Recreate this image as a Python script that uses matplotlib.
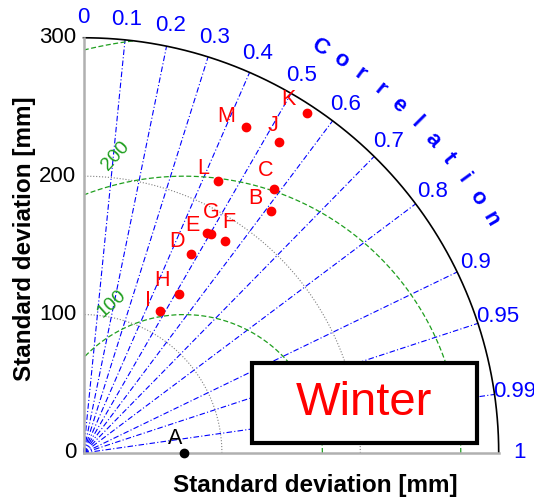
import numpy as np
import matplotlib.pyplot as plt
from matplotlib.patches import Rectangle

plt.rcParams['font.family'] = ['Liberation Sans', 'DejaVu Sans']

# model points: standard deviation [mm] and correlation
names = ['A', 'B', 'C', 'D', 'E', 'F', 'G', 'H', 'I', 'J', 'K', 'L', 'M']
stds = [72.6, 221.5, 235.0, 163.3, 181.9, 184.2, 182.8, 133.9, 116.7, 265.4, 293.9, 219.3, 263.1]
corrs = [1.0, 0.613, 0.586, 0.476, 0.489, 0.554, 0.503, 0.515, 0.474, 0.533, 0.549, 0.444, 0.446]

ref_std = 72.6
max_std = 300
std_ticks = [0, 100, 200, 300]
std_grid = [100, 200]
corr_ticks = [0, 0.1, 0.2, 0.3, 0.4, 0.5, 0.6, 0.7, 0.8, 0.9, 0.95, 0.99, 1]
rms_levels = [100, 200, 300]
rms_labels = [100, 200]

# label offsets (points) for the letters next to each dot
label_offsets = {
    'A': (-6.5, 10.1), 'B': (-11.7, 8.9), 'C': (-5.8, 13.9), 'D': (-10.3, 9.1),
    'E': (-10.4, 6.0), 'F': (2.6, 13.2), 'G': (0.7, 15.6), 'H': (-12.0, 9.8),
    'I': (-8.4, 7.7), 'J': (-4.3, 11.7), 'K': (-13.2, 9.4), 'L': (-10.8, 9.1),
    'M': (-13.9, 7.4),
}

fig = plt.figure(figsize=(5.34, 4.99), dpi=100)
ax = fig.add_axes([0.1564, 0.0922, 0.7775, 0.8321])
ax.set_xlim(0, max_std)
ax.set_ylim(0, max_std)
ax.axis('off')

# correlation rays
for c in corr_ticks:
    th = np.arccos(c)
    if 0 < c < 1:
        ax.plot([0, max_std * np.cos(th)], [0, max_std * np.sin(th)], color='blue',
                lw=0.8, ls=(0, (5, 2, 1, 2)), clip_on=False, zorder=2)
    ax.text(315 * np.cos(th), 315 * np.sin(th), f'{c:g}', color='blue', fontsize=16,
            ha='center', va='center', clip_on=False)

# "Correlation" written along the arc
word = 'Correlation'
for i, ch in enumerate(word):
    a = np.deg2rad(59.8 - i * 2.99)
    ax.text(339 * np.cos(a), 339 * np.sin(a), ch, color='blue', fontsize=16,
            fontweight='bold', rotation=np.rad2deg(a) - 90, ha='center', va='center',
            rotation_mode='anchor', clip_on=False)

# standard deviation arcs
t = np.linspace(0, np.pi / 2, 300)
for s in std_grid:
    ax.plot(s * np.cos(t), s * np.sin(t), color='gray', ls=':', lw=0.8, zorder=1)
ax.plot(max_std * np.cos(t), max_std * np.sin(t), color='black', lw=1.2, clip_on=False, zorder=3)
ax.plot([0, 0], [0, max_std], color='#b0b0b0', lw=1.8, clip_on=False, zorder=3)
ax.plot([0, max_std], [0, 0], color='#b0b0b0', lw=1.8, clip_on=False, zorder=3)

for s in std_ticks:
    ax.text(-5.4, s, str(s), ha='right', va='center', fontsize=16, clip_on=False)

# centred RMS difference circles around the reference
tt = np.linspace(0, np.pi, 600)
for r in rms_levels:
    x = ref_std + r * np.cos(tt)
    y = r * np.sin(tt)
    keep = (x >= 0) & (x ** 2 + y ** 2 <= max_std ** 2)
    x[~keep] = np.nan
    ax.plot(x, y, color='#1f9f1f', ls=(0, (4, 2)), lw=0.9, zorder=2)

rms_angles = {100: 116, 200: 103}
rms_rot = {100: 42, 200: 48}
for r in rms_labels:
    a = np.deg2rad(rms_angles[r])
    ax.text(ref_std + (r + 20) * np.cos(a), (r + 20) * np.sin(a), str(r), color='#1f9f1f',
            fontsize=14, rotation=rms_rot[r], ha='center', va='center', clip_on=False)

# model points
for n, s, c in zip(names, stds, corrs):
    x = s * c
    y = s * np.sqrt(1 - c ** 2)
    col = 'black' if n == 'A' else 'red'
    ax.plot(x, y, 'o', color=col, ms=6, clip_on=False, zorder=4)
    ax.annotate(n, (x, y), xytext=label_offsets[n], textcoords='offset points',
                color=col, fontsize=15.5, ha='center', va='center', zorder=4)

# season box
ax.add_patch(Rectangle((121.4, 7.2), 162.6, 57.5, facecolor='white', edgecolor='black',
                       lw=3, zorder=5, clip_on=False))
ax.text(202.7, 36.1, 'Winter', color='red', fontsize=34, ha='center', va='center', zorder=6)

fig.text(0.5914, 0.028, 'Standard deviation [mm]', fontsize=17.5, fontweight='bold',
         ha='center', va='center')
fig.text(0.0468, 0.522, 'Standard deviation [mm]', fontsize=17.5, fontweight='bold',
         rotation=90, ha='center', va='center')

fig.savefig('out.png', dpi=100)
